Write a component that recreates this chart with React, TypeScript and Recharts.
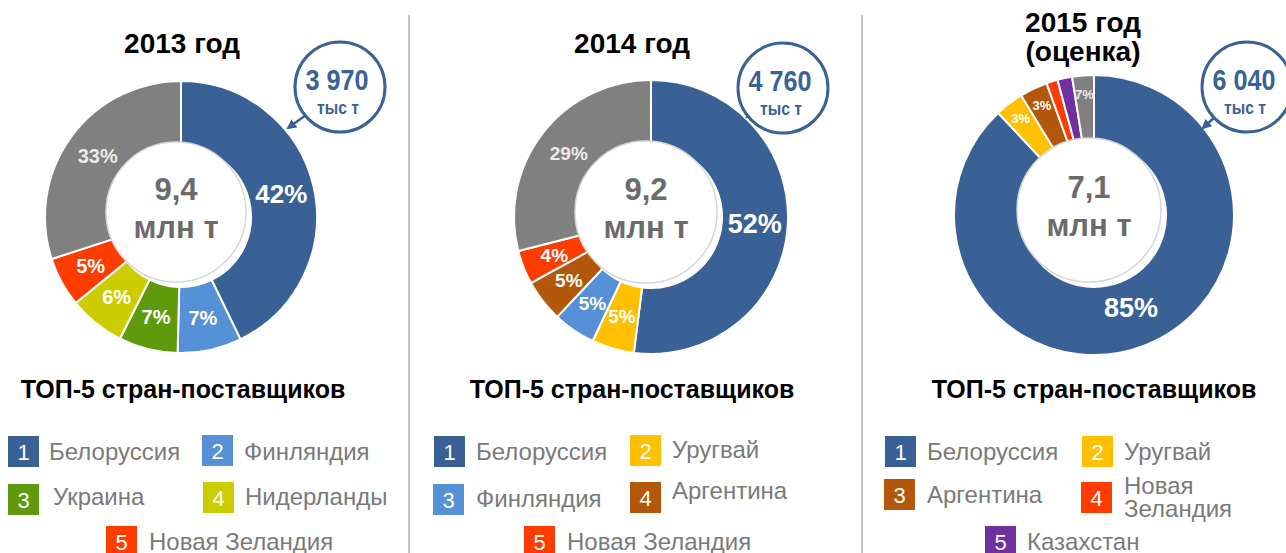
import { PieChart, Pie, Cell } from 'recharts'

// headline numbers
const years = ['2013 год', '2014 год', '2015 год']
const yearNotes = ['', '', '(оценка)']
const totals = ['9,4', '9,2', '7,1']
const leaderVolumes = ['3 970', '4 760', '6 040']

// 2013 (shares as drawn, labels as printed)
const countries2013 = ['Белоруссия', 'Финляндия', 'Украина', 'Нидерланды', 'Новая Зеландия', 'Прочие']
const shares2013 = [42.8, 7.6, 7, 6.7, 5.9, 30]
const labels2013 = ['42%', '7%', '7%', '6%', '5%', '33%']

// 2014
const countries2014 = ['Белоруссия', 'Уругвай', 'Финляндия', 'Аргентина', 'Новая Зеландия', 'Прочие']
const shares2014 = [52, 5, 5, 5, 4, 29]
const labels2014 = ['52%', '5%', '5%', '5%', '4%', '29%']

// 2015 (estimate)
const countries2015 = ['Белоруссия', 'Уругвай', 'Аргентина', 'Новая Зеландия', 'Казахстан', 'Прочие']
const shares2015 = [88, 3.3, 3.2, 1.3, 1.7, 2.5]
const labels2015 = ['85%', '3%', '3%', '', '', '7%']

const colors: Record<string, string> = {
  'Белоруссия': '#3a6195',
  'Финляндия': '#5690d6',
  'Украина': '#5f9a0c',
  'Нидерланды': '#cccc00',
  'Новая Зеландия': '#fe3c00',
  'Уругвай': '#ffc000',
  'Аргентина': '#b3580b',
  'Казахстан': '#7030a0',
  'Прочие': '#808080',
}

const FONT = '"Liberation Sans", Arial, sans-serif'
const CALLOUT = '#3a6296'

const charts = [
  {
    countries: countries2013, shares: shares2013, labels: labels2013,
    cx: 176, cy: 212, inner: 70, outer: 136, bigFont: 26, smallFont: 20, bigFrac: 0.5, smallFrac: 0.5,
    titleX: 182, titleY: [53], bubble: { x: 340, y: 87 }, arrow: [306, 115, 288, 128],
    legendTitleX: 183,
    legend: [
      { sx: 8, sy: 436, tx: 49, ty: [460] },
      { sx: 202, sy: 435, tx: 244, ty: [460] },
      { sx: 8, sy: 484, tx: 53, ty: [505] },
      { sx: 203, sy: 482, tx: 245, ty: [505] },
      { sx: 106, sy: 526, tx: 149, ty: [550] },
    ],
  },
  {
    countries: countries2014, shares: shares2014, labels: labels2014,
    cx: 646, cy: 212, inner: 71, outer: 137, bigFont: 27, smallFont: 19, bigFrac: 0.5, smallFrac: 0.5,
    titleX: 632, titleY: [53], bubble: { x: 783, y: 88 }, arrow: null,
    legendTitleX: 632,
    legend: [
      { sx: 434, sy: 436, tx: 476, ty: [460] },
      { sx: 630, sy: 435, tx: 672, ty: [458] },
      { sx: 433, sy: 484, tx: 476, ty: [507] },
      { sx: 630, sy: 482, tx: 672, ty: [499] },
      { sx: 524, sy: 526, tx: 567, ty: [550] },
    ],
  },
  {
    countries: countries2015, shares: shares2015, labels: labels2015,
    cx: 1089, cy: 210, inner: 72, outer: 140, bigFont: 27, smallFont: 13, bigFrac: 0.42, smallFrac: 0.72,
    titleX: 1083, titleY: [32, 61], bubble: { x: 1247, y: 87 }, arrow: [1217, 115, 1203, 128],
    legendTitleX: 1094,
    legend: [
      { sx: 885, sy: 436, tx: 927, ty: [460] },
      { sx: 1082, sy: 436, tx: 1124, ty: [460] },
      { sx: 884, sy: 479, tx: 927, ty: [503] },
      { sx: 1081, sy: 482, tx: 1124, ty: [494, 517] },
      { sx: 985, sy: 526, tx: 1027, ty: [550] },
    ],
  },
]

const RAD = Math.PI / 180

function sliceLabel(labels: string[], c: any) {
  return (p: any) => {
    const text = labels[p.index]
    if (!text) return null
    const big = p.percent > 0.4
    const frac = big ? c.bigFrac : c.smallFrac
    const r = p.innerRadius + (p.outerRadius - p.innerRadius) * frac
    const x = p.cx + r * Math.cos(-p.midAngle * RAD)
    const y = p.cy + r * Math.sin(-p.midAngle * RAD)
    return (
      <text x={x} y={y} textAnchor="middle" dominantBaseline="central"
        fill={p.index === labels.length - 1 ? '#eaeaea' : '#fff'}
        fontFamily={FONT} fontWeight="bold" fontSize={big ? c.bigFont : c.smallFont}>
        {text}
      </text>
    )
  }
}

export default function App() {
  return (
    <div style={{ position: 'absolute', left: 0, top: 0, width: 1286, height: 553, background: '#fff', overflow: 'hidden' }}>
      <PieChart width={1286} height={553} style={{ position: 'absolute', left: 0, top: 0 }}>
        {charts.map((c, i) => (
          <Pie
            key={i}
            data={c.countries.map((name, k) => ({ name, value: c.shares[k] }))}
            dataKey="value"
            cx={c.cx}
            cy={c.cy}
            innerRadius={c.inner}
            outerRadius={c.outer}
            startAngle={90}
            endAngle={-270}
            stroke="#fff"
            strokeWidth={2}
            label={sliceLabel(c.labels, c)}
            labelLine={false}
            isAnimationActive={false}
          >
            {c.countries.map((name) => (
              <Cell key={name} fill={colors[name]} />
            ))}
          </Pie>
        ))}
      </PieChart>

      <svg width={1286} height={553} style={{ position: 'absolute', left: 0, top: 0, pointerEvents: 'none' }}>
        <defs>
          <marker id="head" viewBox="0 0 10 10" refX="8" refY="5" markerWidth="4" markerHeight="4" orient="auto">
            <path d="M0,0 L10,5 L0,10 z" fill={CALLOUT} />
          </marker>
        </defs>

        <line x1={409} y1={15} x2={409} y2={553} stroke="#c4c4c4" strokeWidth={2} />
        <line x1={862} y1={15} x2={862} y2={553} stroke="#c4c4c4" strokeWidth={2} />

        {charts.map((c, i) => (
          <g key={i}>
            {/* title */}
            <text x={c.titleX} y={c.titleY[0]} textAnchor="middle" fontFamily={FONT} fontWeight="bold" fontSize={28} fill="#000">
              {years[i]}
            </text>
            {yearNotes[i] && (
              <text x={c.titleX} y={c.titleY[1]} textAnchor="middle" fontFamily={FONT} fontWeight="bold" fontSize={28} fill="#000">
                {yearNotes[i]}
              </text>
            )}

            {/* centre hole */}
            <circle cx={c.cx} cy={c.cy} r={c.inner} fill="#fff" stroke="#d6d6d6" strokeWidth={1.5} />
            <text x={c.cx} y={c.cy - 12} textAnchor="middle" fontFamily={FONT} fontWeight="bold" fontSize={31} fill="#6b6b6b">
              {totals[i]}
            </text>
            <text x={c.cx} y={c.cy + 26} textAnchor="middle" fontFamily={FONT} fontWeight="bold" fontSize={31} fill="#6b6b6b">
              млн т
            </text>

            {/* callout bubble */}
            {c.arrow && (
              <line x1={c.arrow[0]} y1={c.arrow[1]} x2={c.arrow[2]} y2={c.arrow[3]} stroke={CALLOUT} strokeWidth={2.5} markerEnd="url(#head)" />
            )}
            {!c.arrow && <line x1={750} y1={113} x2={746} y2={118} stroke={CALLOUT} strokeWidth={2} />}
            <circle cx={c.bubble.x} cy={c.bubble.y} r={45} fill="#fff" stroke={CALLOUT} strokeWidth={3} />
            <text x={c.bubble.x - 3} y={c.bubble.y + 3} textAnchor="middle" fontFamily={FONT} fontWeight="bold" fontSize={29}
              textLength={63} lengthAdjust="spacingAndGlyphs" fill={CALLOUT}>
              {leaderVolumes[i]}
            </text>
            <text x={c.bubble.x - 2} y={c.bubble.y + 27} textAnchor="middle" fontFamily={FONT} fontWeight="bold" fontSize={18}
              textLength={42} lengthAdjust="spacingAndGlyphs" fill={CALLOUT}>
              тыс т
            </text>

            {/* legend */}
            <text x={c.legendTitleX} y={398} textAnchor="middle" fontFamily={FONT} fontWeight="bold" fontSize={25} fill="#000">
              ТОП-5 стран-поставщиков
            </text>
            {c.legend.map((l, k) => {
              const name = c.countries[k]
              const lines = l.ty.length > 1 ? name.split(' ') : [name]
              return (
                <g key={k}>
                  <rect x={l.sx} y={l.sy} width={31} height={31} fill={colors[name]} />
                  <text x={l.sx + 15.5} y={l.sy + 24} textAnchor="middle" fontFamily={FONT} fontSize={22} fill="#fff">
                    {k + 1}
                  </text>
                  {lines.map((t, j) => (
                    <text key={j} x={l.tx} y={l.ty[j]} fontFamily={FONT} fontSize={24} fill="#7a7a7a">
                      {t}
                    </text>
                  ))}
                </g>
              )
            })}
          </g>
        ))}
      </svg>
    </div>
  )
}
